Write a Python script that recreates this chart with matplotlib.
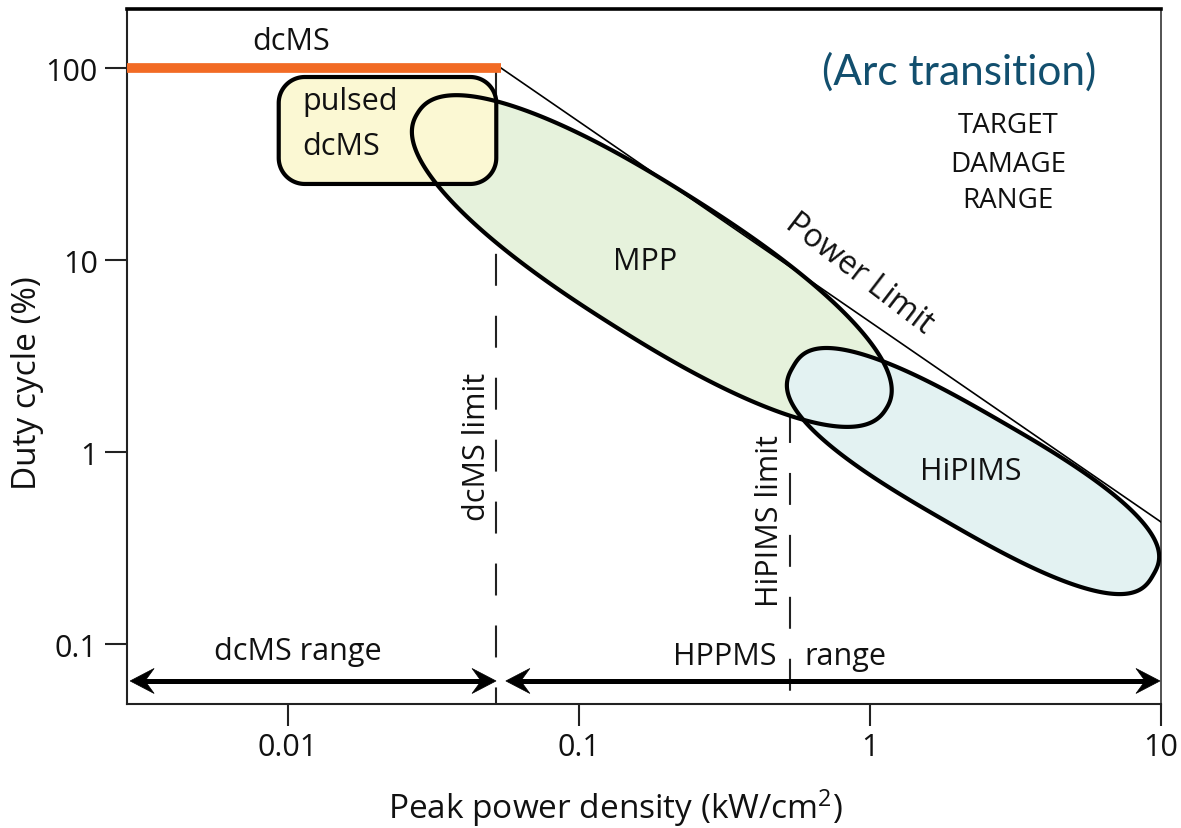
import numpy as np
import matplotlib
matplotlib.use("Agg")
import matplotlib.pyplot as plt
from matplotlib.patches import Polygon

# ---------------------------------------------------------------- data
x_ticks = [0.01, 0.1, 1, 10]
x_tick_labels = ["0.01", "0.1", "1", "10"]
y_ticks = [0.1, 1, 10, 100]
y_tick_labels = ["0.1", "1", "10", "100"]
x_range = [0.0028, 10]
y_range = [0.0487, 203]

dcms_duty = 100                 # dcMS runs continuously (100 % duty)
dcms_end = 0.054                # kW/cm2, end of the dcMS line
dcms_limit = 0.052              # kW/cm2
hipims_limit = 0.53             # kW/cm2
hipims_limit_top = 1.63         # duty (%) where the HiPIMS limit line starts
power_limit_x = [0.054, 10]
power_limit_y = [100, 0.432]

pulsed_box_x = [0.0093, 0.052]
pulsed_box_y = [24.9, 89.8]
mpp_center = [0.178, 9.88]
hipims_center = [2.26, 0.796]

range_arrow_y = 0.0642
dcms_range_x = [0.00287, 0.0519]
hppms_range_x = [0.0561, 9.92]

# ---------------------------------------------------------------- style
FONT = "Open Sans"
plt.rcParams["font.family"] = [FONT, "DejaVu Sans"]
plt.rcParams["mathtext.fontset"] = "custom"
plt.rcParams["mathtext.rm"] = FONT
plt.rcParams["mathtext.it"] = FONT
plt.rcParams["lines.scale_dashes"] = False

ORANGE = "#F26B25"
YELLOW = "#FBF8D3"
GREEN = "#E6F2DC"
CYAN = "#E3F2F2"
ARC_BLUE = "#124F6E"
FS = 22
FS_AXIS = 24

W, H = 1181, 829
fig = plt.figure(figsize=(W / 100, H / 100), dpi=100)
ax = fig.add_axes([127 / W, 124 / H, 1034 / W, 695 / H])
ax.set_xscale("log")
ax.set_yscale("log")
ax.set_xlim(*x_range)
ax.set_ylim(*y_range)
ax.set_xticks(x_ticks, x_tick_labels)
ax.set_yticks(y_ticks, y_tick_labels)
ax.minorticks_off()
ax.tick_params(direction="out", length=16, width=1.5, labelsize=FS,
               color="#222222", labelcolor="#111111")
ax.tick_params(axis="x", pad=4)
ax.tick_params(axis="y", pad=5)
for name, sp in ax.spines.items():
    sp.set_linewidth(1.5)
    sp.set_color("#222222")
ax.spines["top"].set_linewidth(2.6)
ax.spines["top"].set_color("black")
ax.spines["right"].set_color("#444444")
ax.spines["right"].set_linewidth(1.3)

ax.set_xlabel("Peak power density (kW/cm$^{2}$)", fontsize=FS_AXIS, color="#111111")
ax.set_ylabel("Duty cycle (%)", fontsize=FS_AXIS, color="#111111")
ax.xaxis.set_label_coords(0.472, -0.118)
ax.yaxis.set_label_coords(-0.080, 0.463)

to_disp = ax.transData.transform
to_data = ax.transData.inverted().transform


def superellipse(center, a, b, angle_deg, n, num=600):
    """Closed superellipse drawn in screen space, returned in data units."""
    cx, cy = to_disp(center)
    t = np.linspace(0, 2 * np.pi, num)
    c, s = np.cos(t), np.sin(t)
    u = a * np.sign(c) * np.abs(c) ** (2 / n)
    v = b * np.sign(s) * np.abs(s) ** (2 / n)
    th = np.radians(angle_deg)
    px = cx + u * np.cos(th) - v * np.sin(th)
    py = cy + u * np.sin(th) + v * np.cos(th)
    return to_data(np.column_stack([px, py]))


def rounded_box(xs, ys, r):
    """Rounded rectangle between data corners, corner radius r in pixels."""
    (x0, y0), (x1, y1) = to_disp([[xs[0], ys[0]], [xs[1], ys[1]]])
    pts = []
    corners = [(x1 - r, y0 + r, -90, 0), (x1 - r, y1 - r, 0, 90),
               (x0 + r, y1 - r, 90, 180), (x0 + r, y0 + r, 180, 270)]
    for cx, cy, a0, a1 in corners:
        ang = np.radians(np.linspace(a0, a1, 30))
        pts.append(np.column_stack([cx + r * np.cos(ang), cy + r * np.sin(ang)]))
    return to_data(np.vstack(pts))


def stealth_head(tip, direction, length=24, half_width=12.5):
    tx, ty = to_disp(tip)
    d = direction
    pts = [(tx, ty), (tx - d * length, ty + half_width),
           (tx - d * 0.62 * length, ty), (tx - d * length, ty - half_width)]
    return to_data(np.array(pts))


def range_arrow(xs, y):
    (x0d, yd), (x1d, _) = to_disp([[xs[0], y], [xs[1], y]])
    shaft = to_data([[x0d + 12, yd], [x1d - 12, yd]])
    ax.plot(shaft[:, 0], shaft[:, 1], color="black", lw=3.6,
            solid_capstyle="butt", zorder=6)
    for tip, d in (((xs[0], y), -1), ((xs[1], y), 1)):
        ax.add_patch(Polygon(stealth_head(tip, d), closed=True,
                             facecolor="black", edgecolor="black", lw=0.5,
                             zorder=6))


# limit lines (dashed), underneath the regions
dash = (0, (23, 21.6))
ax.plot([dcms_limit, dcms_limit], [dcms_duty, y_range[0]], color="#222222",
        lw=1.5, linestyle=dash, zorder=1)
ax.plot([hipims_limit, hipims_limit], [hipims_limit_top, y_range[0]],
        color="#222222", lw=1.5, linestyle=dash, zorder=1)

# operating regions
mpp = superellipse(mpp_center, 277, 75, -32.3, 2.3)
hip = superellipse(hipims_center, 208, 57, -30.0, 2.7)
box = rounded_box(pulsed_box_x, pulsed_box_y, 26)

ax.add_patch(Polygon(mpp, closed=True, facecolor=GREEN, edgecolor="none", zorder=2))
ax.add_patch(Polygon(hip, closed=True, facecolor=CYAN, edgecolor="none", zorder=2.1))
ax.add_patch(Polygon(box, closed=True, facecolor=YELLOW, edgecolor="none", zorder=2.2))
for shape in (mpp, hip, box):
    ax.add_patch(Polygon(shape, closed=True, facecolor="none",
                         edgecolor="black", lw=3.0, joinstyle="round", zorder=4))

# power limit and dcMS line
ax.plot(power_limit_x, power_limit_y, color="black", lw=1.2, zorder=3.5)
ax.plot([x_range[0], dcms_end], [dcms_duty, dcms_duty], color=ORANGE, lw=7,
        solid_capstyle="butt", zorder=5)

# range arrows
range_arrow(dcms_range_x, range_arrow_y)
range_arrow(hppms_range_x, range_arrow_y)

# labels
txt = dict(color="#111111", fontsize=FS, zorder=7)
ax.text(0.01024, 125.6, "dcMS", ha="center", va="baseline", **txt)
ax.text(0.01117, 61.1, "pulsed", ha="left", va="baseline", **txt)
ax.text(0.01117, 35.7, "dcMS", ha="left", va="baseline", **txt)
ax.text(0.1685, 8.98, "MPP", ha="center", va="baseline", **txt)
ax.text(2.22, 0.7235, "HiPIMS", ha="center", va="baseline", **txt)
ax.text(0.01082, 0.0835, "dcMS range", ha="center", va="baseline", **txt)
ax.text(0.479, 0.0787, "HPPMS", ha="right", va="baseline", **txt)
ax.text(0.593, 0.0787, "range", ha="left", va="baseline", **txt)
ax.text(0.0475, 1.075, "dcMS limit", ha="center", va="baseline",
        rotation=90, rotation_mode="anchor", **txt)
ax.text(0.483, 0.442, "HiPIMS limit", ha="center", va="baseline",
        rotation=90, rotation_mode="anchor", **txt)

p0, p1 = to_disp([[power_limit_x[0], power_limit_y[0]],
                  [power_limit_x[1], power_limit_y[1]]])
line_angle = np.degrees(np.arctan2(p1[1] - p0[1], p1[0] - p0[0]))
ax.text(0.885, 7.9, "Power Limit", ha="center", va="baseline",
        rotation=line_angle - 3, rotation_mode="anchor",
        color="#111111", fontsize=23, zorder=7)

for label, y in zip(["TARGET", "DAMAGE", "RANGE"], [46.4, 29.1, 18.9]):
    ax.text(2.98, y, label, ha="center", va="baseline", color="#111111",
            fontsize=20, zorder=7)

ax.text(2.02, 82.5, "(Arc transition)", ha="center", va="baseline",
        color=ARC_BLUE, fontsize=30.5, family=["Lato", "DejaVu Sans"], zorder=7)

fig.savefig("out.png", dpi=100)
